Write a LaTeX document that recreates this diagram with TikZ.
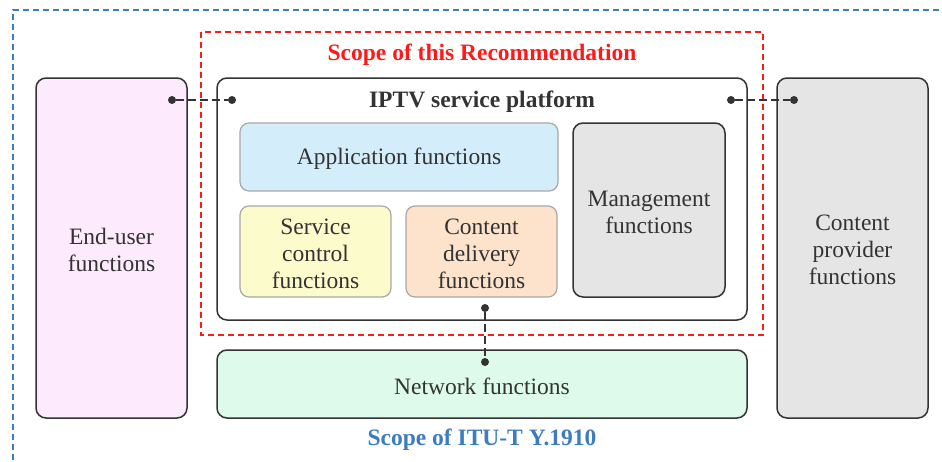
\documentclass[tikz,border=0pt]{standalone}
\usepackage{fontspec}
\setmainfont{Liberation Serif}
\definecolor{scopeblue}{HTML}{3D7CC0}
\definecolor{scopered}{HTML}{FF1A1A}
\definecolor{inkgray}{HTML}{333333}
\definecolor{pinkfill}{HTML}{FDEBFD}
\definecolor{bluefill}{HTML}{D3EEFA}
\definecolor{yellowfill}{HTML}{FCFBCB}
\definecolor{peachfill}{HTML}{FDE3CB}
\definecolor{grayfill}{HTML}{E5E5E5}
\definecolor{greenfill}{HTML}{DDFAEA}
\definecolor{softedge}{HTML}{A8A8A8}
\begin{document}
\begin{tikzpicture}[x=1pt,y=-1pt,
  outerbox/.style={draw=inkgray,line width=1.5pt,rounded corners=10pt,inner sep=0pt},
  innerbox/.style={draw=softedge,line width=1.2pt,rounded corners=9pt,inner sep=0pt},
  lbl/.style={font=\fontsize{23.5}{27}\selectfont,text=inkgray,align=center,yshift=-2pt},
  heading/.style={font=\fontsize{23.5}{27}\selectfont\bfseries,yshift=-2pt},
  dotend/.style={circle,fill=inkgray,inner sep=0pt,minimum size=8pt},
  link/.style={draw=inkgray,line width=1.3pt,dash pattern=on 8pt off 4pt}]
\useasboundingbox (0,0) rectangle (942,461);
% overall scope frame (runs past the right and bottom edges)
\begin{scope}
\clip (0,0) rectangle (942,461);
\draw[scopeblue,line width=1.2pt,dash pattern=on 6pt off 4pt] (13,480) -- (13,10) -- (960,10);
\end{scope}
% scope of this Recommendation
\draw[scopered,line width=1.3pt,dash pattern=on 6pt off 4pt] (201,32) rectangle (763,335);
\node[heading,text=scopered] (rectitle) at (482,53) {Scope of this Recommendation};
% side function blocks
\path[outerbox,fill=pinkfill] (36,78) rectangle (187,418);
\node[lbl] (enduser) at (111.5,248) {End-user\\functions};
\path[outerbox,fill=grayfill] (777,78) rectangle (928,418);
\node[lbl] (provider) at (852.5,248) {Content\\provider\\functions};
% IPTV service platform
\path[outerbox,fill=white] (217,78) rectangle (747,320);
\node[heading,text=inkgray] (platform) at (482,100) {IPTV service platform};
\path[innerbox,fill=bluefill] (240,123) rectangle (558,191);
\node[lbl] (app) at (399,157) {Application functions};
\path[innerbox,fill=yellowfill] (240,206) rectangle (391,297);
\node[lbl] (svc) at (315.5,251.5) {Service\\control\\functions};
\path[innerbox,fill=peachfill] (406,206) rectangle (557,297);
\node[lbl] (cdf) at (481.5,251.5) {Content\\delivery\\functions};
\path[outerbox,fill=grayfill] (573,123) rectangle (725,297);
\node[lbl] (mgmt) at (649,210) {Management\\functions};
% network functions
\path[outerbox,fill=greenfill] (217,350) rectangle (747,418);
\node[lbl] (net) at (482,384) {Network functions};
% reference points between the blocks
\node[dotend] (eu) at (172,100) {};
\node[dotend] (pl) at (232,100) {};
\node[dotend] (pr) at (731,100) {};
\node[dotend] (cp) at (794,100) {};
\node[dotend] (pb) at (485,308) {};
\node[dotend] (nt) at (485,362) {};
\draw[link] (eu) -- (pl);
\draw[link] (pr) -- (cp);
\draw[link] (pb) -- (nt);
% overall scope label
\node[heading,text=scopeblue] (itutitle) at (482,438) {Scope of ITU-T Y.1910};
\end{tikzpicture}
\end{document}
